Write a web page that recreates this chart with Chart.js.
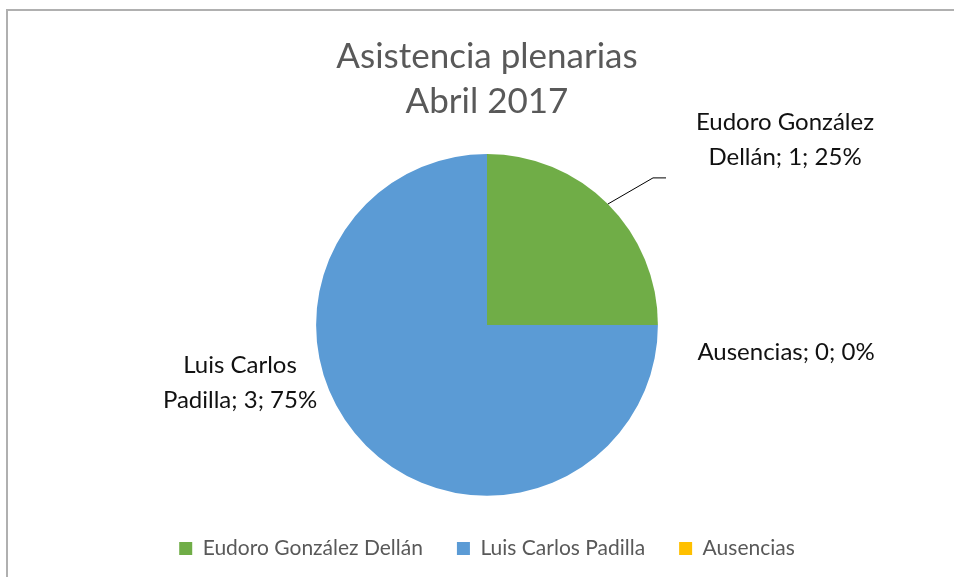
<!DOCTYPE html>
<html>
<head>
<meta charset="utf-8">
<script src="https://cdn.jsdelivr.net/npm/chart.js@4/dist/chart.umd.min.js"></script>
<style>
  html, body { margin: 0; padding: 0; background: #fff; }
  #wrap { position: relative; width: 954px; height: 577px; overflow: hidden; }
  #frame { position: absolute; left: 6px; top: 9px; width: 1000px; height: 600px;
           border-left: 2px solid #b0b0b0; border-top: 2px solid #b0b0b0; }
  #chart { position: absolute; left: 0; top: 0; }
</style>
</head>
<body>
<div id="wrap">
  <div id="frame"></div>
  <canvas id="chart" width="954" height="577"></canvas>
</div>
<script>
const categories = ['Eudoro González Dellán', 'Luis Carlos Padilla', 'Ausencias'];
const asistencias = [1, 3, 0];
const colores = ['#70AD47', '#5B9BD5', '#FFC000'];
const titulo = ['Asistencia plenarias', 'Abril 2017'];

// label text lines and offset from pie centre (label block centre)
const labelLines = [
    ['Eudoro González', 'Dellán; 1; 25%'],
    ['Luis Carlos', 'Padilla; 3; 75%'],
    ['Ausencias; 0; 0%']
];
const labelOffset = [[298, -185], [-247, 58], [299, 27]];

const FONT = 'Lato, "Open Sans", sans-serif';

const dataLabels = {
    id: 'dataLabels',
    afterDatasetsDraw(chart) {
        const ctx = chart.ctx;
        const meta = chart.getDatasetMeta(0);
        ctx.save();
        ctx.font = '24px ' + FONT;
        ctx.fillStyle = '#111';
        ctx.textAlign = 'center';
        ctx.textBaseline = 'middle';
        meta.data.forEach((arc, i) => {
            const cx = arc.x, cy = arc.y;
            const lines = labelLines[i];
            const lx = cx + labelOffset[i][0];
            const ly = cy + labelOffset[i][1];
            const lh = 35;
            lines.forEach((t, k) => {
                ctx.fillText(t, lx, ly + (k - (lines.length - 1) / 2) * lh);
            });
            // leader line for the small slice
            if (i === 0) {
                const mid = (arc.startAngle + arc.endAngle) / 2;
                const sx = cx + Math.cos(mid) * arc.outerRadius;
                const sy = cy + Math.sin(mid) * arc.outerRadius;
                ctx.beginPath();
                ctx.strokeStyle = '#000';
                ctx.lineWidth = 1;
                ctx.moveTo(sx, sy);
                ctx.lineTo(cx + 166, cy - 147);
                ctx.lineTo(cx + 179, cy - 147);
                ctx.stroke();
            }
        });
        ctx.restore();
    }
};

new Chart(document.getElementById('chart'), {
    type: 'pie',
    data: {
        labels: categories,
        datasets: [{
            data: asistencias,
            backgroundColor: colores,
            borderWidth: 0
        }]
    },
    options: {
        responsive: false,
        animation: false,
        layout: { padding: { left: 20, right: 0, top: 0, bottom: 8 } },
        plugins: {
            title: {
                display: true,
                text: titulo,
                color: '#595959',
                font: { family: FONT, size: 35, weight: 'normal', lineHeight: 45 / 35 },
                padding: { top: 34, bottom: 30 }
            },
            legend: {
                position: 'bottom',
                title: { display: true, text: '', font: { size: 1 }, padding: { top: 0, bottom: 7 } },
                labels: {
                    color: '#595959',
                    font: { family: FONT, size: 21 },
                    boxWidth: 13,
                    boxHeight: 13,
                    padding: 34
                }
            },
            tooltip: { enabled: false }
        }
    },
    plugins: [dataLabels]
});
</script>
</body>
</html>
